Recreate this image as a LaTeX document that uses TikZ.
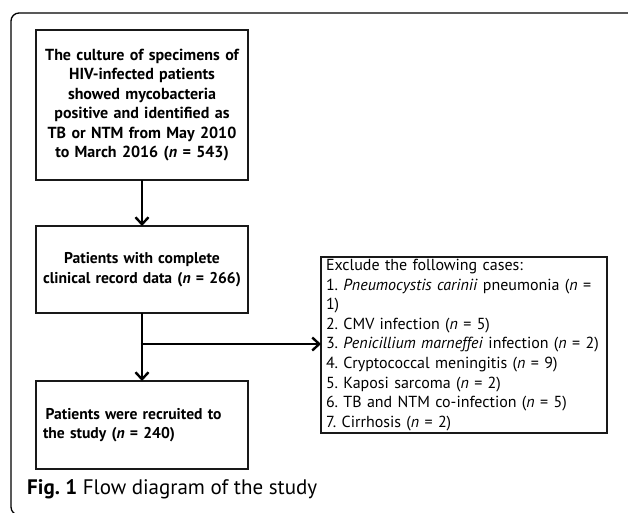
\documentclass[tikz,border=0pt]{standalone}
\usepackage{fontspec}
\setmainfont{PT Sans}
\frenchspacing
\usetikzlibrary{arrows.meta}
\begin{document}
\begin{tikzpicture}[x=1pt,y=-1pt,
    box/.style={draw=black!90, line width=1.7pt, inner sep=0pt, outer sep=0pt},
    arr/.style={line width=2.6pt, -{Straight Barb[length=7pt,width=13pt,line width=2.4pt]}}]
    \useasboundingbox (0,0) rectangle (628,512);
    % outer frame
    \begin{scope}
        \clip (0,0) rectangle (628,512);
        \draw[line width=1.3pt, rounded corners=8pt] (11,13) rectangle (700,515);
    \end{scope}

    \node[box, minimum width=212pt, minimum height=150pt, text width=206pt, align=center,
          font=\fontsize{16}{19.4}\selectfont\bfseries] (culture) at (142,105)
        {The culture of specimens of\\ HIV-infected patients\\ showed mycobacteria\\
         positive and identified as\\ TB or NTM from May 2010\\ to March 2016 (\textit{n} = 543)};
    \node[box, minimum width=212pt, minimum height=87pt, text width=206pt, align=center,
          font=\fontsize{15.6}{20}\selectfont\bfseries] (record) at (142,269.5)
        {Patients with complete\\ clinical record data (\textit{n} = 266)};
    \node[box, minimum width=212pt, minimum height=88pt, text width=198pt, align=left,
          inner xsep=7pt, font=\fontsize{15.6}{19}\selectfont\bfseries] (recruited) at (142,425)
        {\,Patients were recruited to\\ the study (\textit{n} = 240)};
    \node[box, anchor=north west, minimum width=284pt, minimum height=176pt, text width=276pt,
          align=left, inner xsep=5pt, font=\fontsize{16}{19.6}\selectfont] (exclude) at (321,257)
        {Exclude the following cases:\\
         1. \textit{Pneumocystis carinii} pneumonia (\textit{n} =\\
         1)\\
         2. CMV infection (\textit{n} = 5)\\
         3. \textit{Penicillium marneffei} infection (\textit{n} = 2)\\
         4. Cryptococcal meningitis (\textit{n} = 9)\\
         5. Kaposi sarcoma (\textit{n} = 2)\\
         6. TB and NTM co-infection (\textit{n} = 5)\\
         7. Cirrhosis (\textit{n} = 2)};

    \coordinate (split) at (142,344);
    \draw[arr] (culture) -- (record);
    \draw[arr] (record) -- (recruited);
    \draw[arr] ([xshift=-1.3pt]split) -- (split -| exclude.west);

    \node[anchor=base west, inner sep=0pt, font=\fontsize{21}{24}\selectfont] (caption) at (27,494)
        {\textbf{Fig. 1} Flow diagram of the study};
\end{tikzpicture}
\end{document}
